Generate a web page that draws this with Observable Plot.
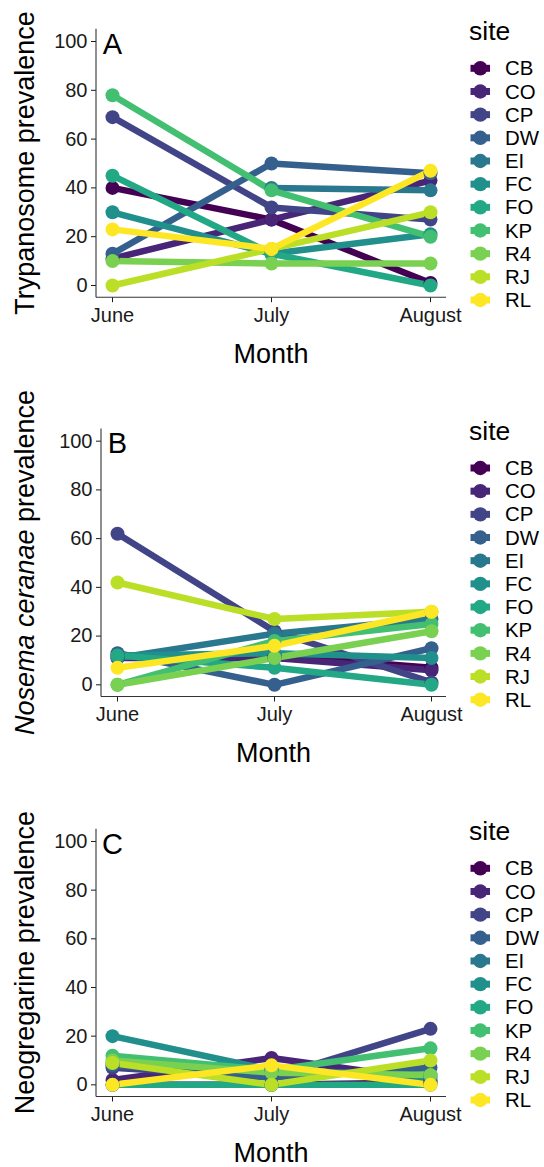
<!DOCTYPE html>
<html><head><meta charset="utf-8">
<script src="https://cdn.jsdelivr.net/npm/d3@7"></script>
<script src="https://cdn.jsdelivr.net/npm/@observablehq/plot@0.6"></script>
<style>
body{margin:0;background:#fff;}
#wrap{position:relative;width:544px;height:1167px;background:#fff;overflow:hidden;}
.panel{position:absolute;left:0;width:544px;height:389px;}
</style></head><body><div id="wrap"></div>
<script>
const months = ["June","July","August"];
const sites = ["CB","CO","CP","DW","EI","FC","FO","KP","R4","RJ","RL"];
// prevalence (%) per site, in site order, for June, July, August
const trypanosome = [
  [40, 27, 1],
  [11, 27, 43],
  [69, 32, 27],
  [13, 50, 46],
  [null, 40, 39],
  [30, 13, 21],
  [45, 13, 0],
  [78, 39, 20],
  [10, 9, 9],
  [0, 15, 30],
  [23, 15, 47]
];
const nosema = [
  [12, 12, 7],
  [11, 11, 6],
  [62, 22, 1],
  [13, 0, 15],
  [11, 21, 27],
  [12, 13, 11],
  [12, 7, 0],
  [0, 18, 25],
  [0, 11, 22],
  [42, 27, 30],
  [7, 16, 30]
];
const neogregarine = [
  [0, 0, 1],
  [2, 11, 2],
  [7, 3, 23],
  [8, 3, 7],
  [9, 6, 4],
  [20, 6, 3],
  [0, 0, 0],
  [12, 6, 15],
  [10, 5, 4],
  [9, 0, 10],
  [0, 8, 0]
];
const yTicks = [0, 20, 40, 60, 80, 100];
const panelLetters = ["A", "B", "C"];
const palette = ["#440154","#482576","#414487","#35608D","#2A788E","#21908C","#22A884","#43BF71","#7AD151","#BBDF27","#FDE725"];

const FONT = "'Liberation Sans', Arial, Helvetica, sans-serif";

function tidy(values) {
  const rows = [];
  sites.forEach((s, i) => months.forEach((m, j) => {
    rows.push({site: s, month: m, value: values[i][j] == null ? NaN : values[i][j]});
  }));
  return rows;
}

const panels = [
  {values: trypanosome, top: 0, mL: 96, mR: 98, mT: 28.8, mB: 91.8,
   title: [{t: "Trypanosome prevalence", i: false}]},
  {values: nosema, top: 389, mL: 101, mR: 98, mT: 39.5, mB: 81.5,
   title: [{t: "Nosema ceranae", i: true}, {t: " prevalence", i: false}]},
  {values: neogregarine, top: 778, mL: 96, mR: 98, mT: 50.8, mB: 70.5,
   title: [{t: "Neogregarine prevalence", i: false}]}
];

const wrap = document.getElementById("wrap");
const W = 544, H = 389;

panels.forEach((p, k) => {
  const data = tidy(p.values);
  const chart = Plot.plot({
    width: W, height: H,
    marginLeft: p.mL, marginRight: p.mR, marginTop: p.mT, marginBottom: p.mB,
    style: {fontFamily: FONT, fontSize: "20px", color: "#1a1a1a", background: "#fff", overflow: "visible"},
    x: {type: "point", domain: months, padding: 0.094, label: null},
    y: {domain: [-5, 105], label: null},
    color: {domain: sites, range: palette},
    marks: [
      Plot.axisY({ticks: yTicks, tickSize: 5, tickPadding: 4, label: null, fontSize: 20}),
      Plot.axisX({tickSize: 5, tickPadding: 5, label: null, fontSize: 20}),
      Plot.line(data, {x: "month", y: "value", z: "site", stroke: "site", strokeWidth: 6.5, strokeLinecap: "butt", strokeLinejoin: "round"}),
      Plot.dot(data, {x: "month", y: "value", fill: "site", r: 7, stroke: null}),
      Plot.text([panelLetters[k]], {x: () => months[0], y: () => 100, text: d => d, fontSize: 29, fill: "#000", textAnchor: "middle", lineAnchor: "middle", dy: 3})
    ]
  });
  const div = document.createElement("div");
  div.className = "panel";
  div.style.top = p.top + "px";
  div.appendChild(chart);
  wrap.appendChild(div);

  const svg = d3.select(chart);
  const fl = p.mL, fr = W - p.mR, ft = p.mT, fb = H - p.mB;
  // axis lines (classic theme)
  svg.append("line").attr("x1", fl).attr("x2", fr).attr("y1", fb).attr("y2", fb)
    .attr("stroke", "#333").attr("stroke-width", 1.1);
  svg.append("line").attr("x1", fl).attr("x2", fl).attr("y1", ft).attr("y2", fb)
    .attr("stroke", "#333").attr("stroke-width", 1.1);
  // x title
  svg.append("text").attr("x", (fl + fr) / 2).attr("y", fb + 65.5)
    .attr("text-anchor", "middle").attr("font-size", 27).attr("font-family", FONT)
    .attr("fill", "#000").text("Month");
  // y title
  const yt = svg.append("text")
    .attr("transform", `translate(34,${(ft + fb) / 2}) rotate(-90)`)
    .attr("text-anchor", "middle").attr("font-size", 27).attr("font-family", FONT)
    .attr("fill", "#000");
  p.title.forEach(s => yt.append("tspan").attr("font-style", s.i ? "italic" : "normal").text(s.t));
  // legend
  const lg = svg.append("g").attr("font-family", FONT).attr("text-anchor", "start");
  lg.append("text").attr("x", 469).attr("y", ft + 11.5).attr("font-size", 26.5)
    .attr("text-anchor", "start").attr("fill", "#000").text("site");
  sites.forEach((s, i) => {
    const cy = ft + 39.5 + i * 23.17;
    lg.append("line").attr("x1", 470.5).attr("x2", 490).attr("y1", cy).attr("y2", cy)
      .attr("stroke", palette[i]).attr("stroke-width", 7);
    lg.append("circle").attr("cx", 480.3).attr("cy", cy).attr("r", 7.2).attr("fill", palette[i]);
    lg.append("text").attr("x", 505).attr("y", cy).attr("dy", "0.35em").attr("font-size", 20.4)
      .attr("text-anchor", "start").attr("fill", "#000").text(s);
  });
});
</script>
</body></html>
